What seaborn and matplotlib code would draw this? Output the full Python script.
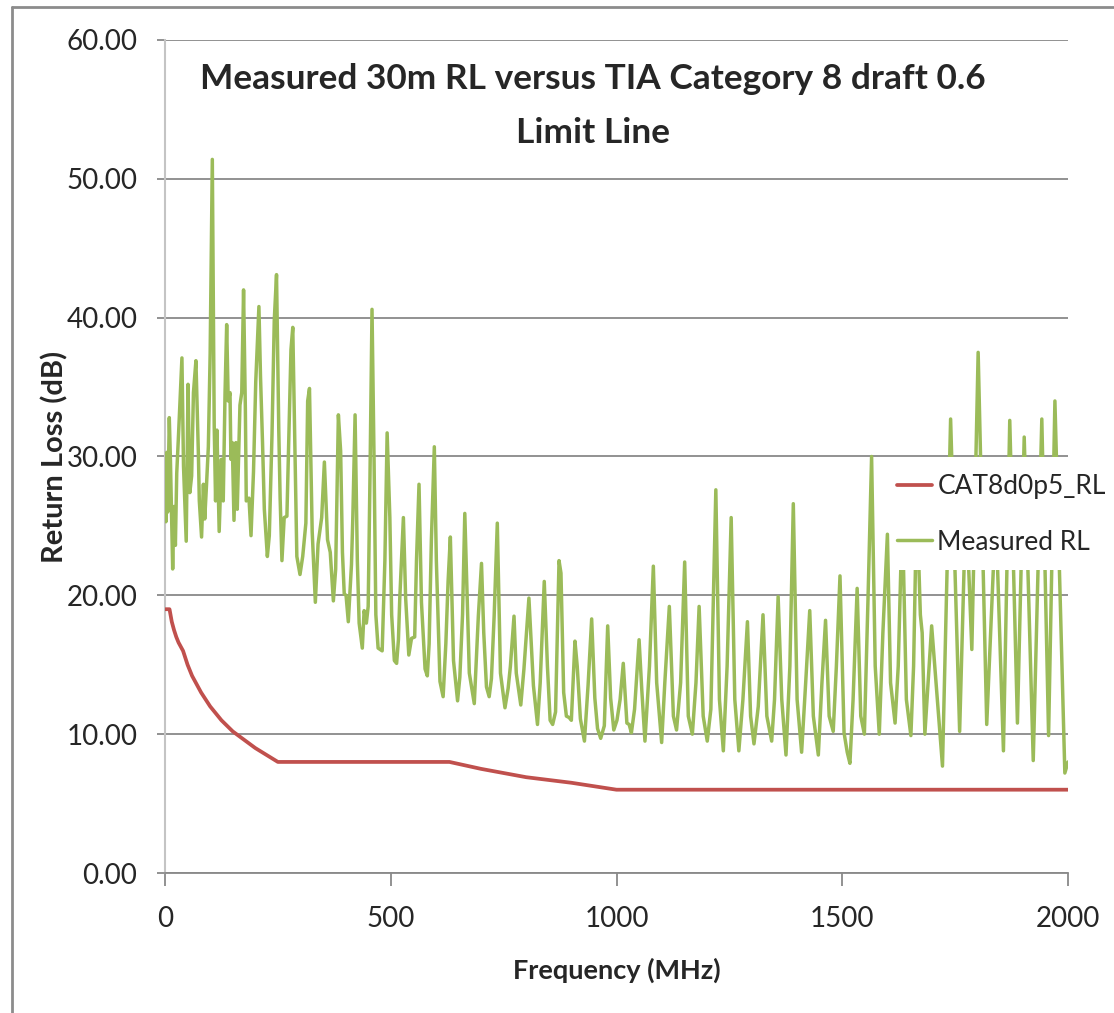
import matplotlib
matplotlib.use("Agg")
import matplotlib.pyplot as plt
from matplotlib.lines import Line2D
from matplotlib.patches import Rectangle
import seaborn as sns
import pandas as pd

# ---------------- data ----------------
limit_freq = [1, 10, 15, 20, 25, 30, 40, 50, 60, 80, 100, 125, 150, 200, 250,
              630, 700, 800, 900, 1000, 2000]
limit_rl = [19.0, 19.0, 18.1, 17.5, 17.0, 16.6, 16.0, 15.0, 14.2, 13.0, 12.0,
            11.0, 10.2, 9.0, 8.0, 8.0, 7.5, 6.9, 6.5, 6.0, 6.0]

meas_freq = [1, 2, 4, 6, 9.5, 12, 17, 20, 23, 26, 30, 37.5, 41, 47, 51, 55, 59, 63,
             68.5, 74, 76, 81, 85, 88, 92, 96, 100, 104.8, 109, 112, 115, 120, 125,
             129, 133, 136.6, 140, 144, 146, 149, 152.8, 157, 160, 166, 170, 174,
             178, 180, 186, 190.5, 196, 201, 208, 211.5, 216, 220, 226.7, 231, 237,
             242, 247, 252, 255, 259, 264, 270, 279, 283, 286, 292, 299, 305, 312,
             316, 320, 326, 333, 339, 347, 353, 360, 366, 372.9, 378, 384, 389, 393,
             397, 401, 406, 413, 416, 421, 426, 430, 437, 441, 446, 450, 454, 458.5,
             463, 467, 472, 481, 487, 492, 498, 502, 508, 513, 517, 520, 528, 533,
             540, 546, 553, 557, 562.6, 568, 576, 581, 585, 590, 596.5, 601, 609,
             616, 622, 627, 632, 639, 648, 653, 659, 664, 674, 685, 694, 701, 706,
             712, 718, 723, 729, 736, 743, 753, 760, 765, 773, 778, 788, 795, 806,
             816, 825, 831, 840, 847, 853, 858.6, 865, 872.7, 877, 883, 889, 895,
             900, 908, 913, 920, 929, 937, 945, 952, 958, 965, 973, 980.5, 987, 994,
             1001, 1008, 1015, 1023, 1028, 1033, 1040, 1050, 1056, 1063, 1073,
             1081.6, 1089, 1100, 1107, 1117, 1126, 1133, 1142, 1151, 1159, 1168,
             1176, 1183, 1192, 1201, 1209, 1220, 1228, 1236.6, 1245, 1254, 1262,
             1271, 1280, 1290, 1297, 1304.5, 1314, 1324.5, 1333, 1343.7, 1350, 1358,
             1366, 1375.4, 1384, 1391.6, 1400, 1410, 1419, 1428, 1436, 1447, 1455,
             1463, 1471, 1480, 1487, 1495, 1504, 1511, 1517, 1524, 1533, 1541, 1549,
             1557, 1565, 1573, 1582, 1590, 1600, 1607, 1617, 1624, 1633, 1642, 1652,
             1658, 1665, 1673, 1677, 1683, 1698, 1722, 1740, 1760, 1774, 1787, 1801,
             1820, 1840, 1857, 1871, 1888, 1903, 1923, 1942, 1957, 1971, 1993, 2000]
meas_rl = [27.5, 25.3, 30.3, 26.0, 32.8, 29.8, 21.9, 26.4, 23.6, 28.8, 31.6, 37.1,
           29.3, 23.9, 35.2, 27.4, 28.6, 34.6, 36.9, 30.1, 26.8, 24.2, 28.0, 25.5,
           28.0, 30.7, 37.4, 51.4, 32.2, 26.8, 31.9, 24.6, 29.8, 26.8, 34.6, 39.5,
           34.0, 34.6, 29.8, 31.0, 25.4, 31.0, 26.2, 33.7, 34.6, 42.0, 33.4, 26.8,
           27.0, 24.3, 28.9, 35.4, 40.8, 35.8, 31.0, 26.2, 22.8, 24.3, 31.6, 39.8,
           43.1, 31.9, 27.0, 22.5, 25.6, 25.7, 37.7, 39.3, 33.7, 22.8, 21.5, 22.8,
           25.2, 34.0, 34.9, 24.6, 19.5, 23.7, 25.6, 29.6, 24.0, 23.1, 19.6, 21.9,
           33.0, 30.4, 23.1, 20.1, 20.0, 18.1, 22.2, 25.6, 33.0, 22.5, 18.0, 16.2,
           18.9, 18.0, 19.2, 28.5, 40.6, 29.8, 18.6, 16.2, 16.0, 22.5, 31.7, 25.6,
           18.6, 15.3, 15.1, 16.8, 19.8, 25.6, 19.8, 15.7, 16.9, 17.0, 22.5, 28.0,
           19.5, 14.7, 14.2, 16.5, 24.0, 30.7, 22.5, 13.8, 12.7, 16.5, 21.0, 24.2,
           15.3, 12.4, 14.1, 18.6, 25.9, 14.4, 12.2, 18.5, 22.3, 17.3, 13.4, 12.7,
           14.0, 18.5, 25.2, 14.4, 11.9, 13.3, 14.9, 18.5, 14.4, 12.1, 14.7, 19.8,
           13.5, 10.7, 13.7, 21.0, 14.9, 11.0, 10.7, 11.6, 22.5, 21.6, 13.0, 11.3,
           11.2, 11.0, 16.7, 14.9, 11.1, 9.5, 13.5, 18.3, 12.6, 10.4, 9.7, 10.6,
           17.8, 12.6, 10.3, 11.0, 12.5, 15.1, 10.8, 10.7, 10.1, 11.8, 16.8, 13.2,
           9.5, 14.9, 22.1, 13.7, 9.4, 13.7, 19.2, 11.3, 10.3, 13.7, 22.4, 11.3,
           10.0, 13.7, 19.2, 11.3, 9.5, 11.8, 27.6, 12.5, 8.8, 14.9, 25.6, 12.5,
           8.8, 12.5, 18.1, 11.3, 9.3, 12.0, 18.6, 11.3, 9.5, 12.5, 19.9, 12.5,
           8.5, 14.9, 26.6, 12.5, 8.7, 13.7, 18.9, 11.3, 8.5, 13.7, 18.2, 11.3,
           10.2, 14.9, 21.4, 10.1, 8.7, 7.9, 12.5, 20.5, 11.3, 10.0, 19.7, 30.0,
           14.9, 10.0, 17.3, 24.4, 13.7, 10.8, 14.9, 26.0, 12.5, 9.9, 14.9, 27.0,
           18.6, 17.3, 10.0, 17.8, 7.7, 32.7, 10.2, 27.0, 16.1, 37.5, 10.7, 26.0,
           8.8, 32.6, 10.8, 31.4, 8.1, 32.7, 9.9, 34.0, 7.2, 8.0]

title_text = "Measured 30m RL versus TIA Category 8 draft 0.6\nLimit Line"
x_label = "Frequency (MHz)"
y_label = "Return Loss (dB)"
limit_name = "CAT8d0p5_RL"
meas_name = "Measured RL"
y_ticks = [0, 10, 20, 30, 40, 50, 60]
x_ticks = [0, 500, 1000, 1500, 2000]

# ---------------- style ----------------
sns.set_style("white")
plt.rcParams['font.family'] = ['Lato', 'DejaVu Sans']

W, H = 1114, 1013
fig = plt.figure(figsize=(W / 100, H / 100), dpi=100)
ax = fig.add_axes([165 / W, 1 - 873 / H, (1068 - 165) / W, (873 - 40) / H])

df_lim = pd.DataFrame({"f": limit_freq, "rl": limit_rl})
df_meas = pd.DataFrame({"f": meas_freq, "rl": meas_rl})

sns.lineplot(data=df_lim, x="f", y="rl", ax=ax, color="#C0504D", lw=2.7,
             label=limit_name, estimator=None, sort=False, zorder=3)
sns.lineplot(data=df_meas, x="f", y="rl", ax=ax, color="#9BBB59", lw=2.5,
             label=meas_name, estimator=None, sort=False, zorder=4)
for ln in ax.lines:
    ln.set_solid_joinstyle("round")

ax.set_xlim(0, 2000)
ax.set_ylim(0, 60)
ax.set_yticks(y_ticks)
ax.set_yticklabels([f"{v:.2f}" for v in y_ticks])
ax.set_xticks(x_ticks)
ax.set_xticklabels([str(v) for v in x_ticks])

ax.yaxis.grid(True, color="#898989", lw=1.3)
ax.xaxis.grid(False)
for s in ["top", "right"]:
    ax.spines[s].set_visible(False)
ax.spines["left"].set_color("#c4c4c4")
ax.spines["left"].set_linewidth(1.5)
ax.spines["bottom"].set_color("#898989")
ax.spines["bottom"].set_linewidth(1.3)
ax.set_axisbelow(True)

ax.tick_params(axis="y", direction="out", length=6, width=1.3, color="#898989",
               labelsize=20, pad=14, left=True)
ax.tick_params(axis="x", direction="out", length=9, width=1.3, color="#898989",
               labelsize=20, pad=15, bottom=True)

ax.set_xlabel(x_label, fontsize=19.5, fontweight="bold")
ax.set_ylabel(y_label, fontsize=21, fontweight="bold")
ax.xaxis.label.set_verticalalignment("center")
ax.yaxis.label.set_verticalalignment("center")
ax.xaxis.set_label_coords(0.5, (873 - 970) / 833)
ax.yaxis.set_label_coords((55 - 165) / 903, 0.5)

# legend on a white panel that hides the lines beneath it
handles, labels = ax.get_legend_handles_labels()
ax.get_legend().remove()
fig.add_artist(Rectangle((892 / W, 1 - 570 / H), (W - 892) / W, 113 / H,
                         transform=fig.transFigure, facecolor="white",
                         edgecolor="none", zorder=1))
leg = fig.legend(handles, labels, loc="center left",
                 bbox_to_anchor=(897 / W, 1 - 514.5 / H),
                 bbox_transform=fig.transFigure, frameon=False, fontsize=19,
                 handlelength=1.33, handletextpad=0.2, borderpad=0,
                 labelspacing=1.15, borderaxespad=0)
leg.set_zorder(2)

fig.text(593 / W, 1 - 106 / H, title_text, ha="center", va="center",
         fontsize=25.4, fontweight="bold", linespacing=1.85)

# chart-area border (top and left edges visible)
fig.add_artist(Line2D([12 / W, 12 / W], [0, 1 - 7 / H], transform=fig.transFigure,
                      color="#8c8c8c", lw=2))
fig.add_artist(Line2D([12 / W, 1], [1 - 7 / H, 1 - 7 / H], transform=fig.transFigure,
                      color="#8c8c8c", lw=2))

fig.savefig("out.png", dpi=100)
